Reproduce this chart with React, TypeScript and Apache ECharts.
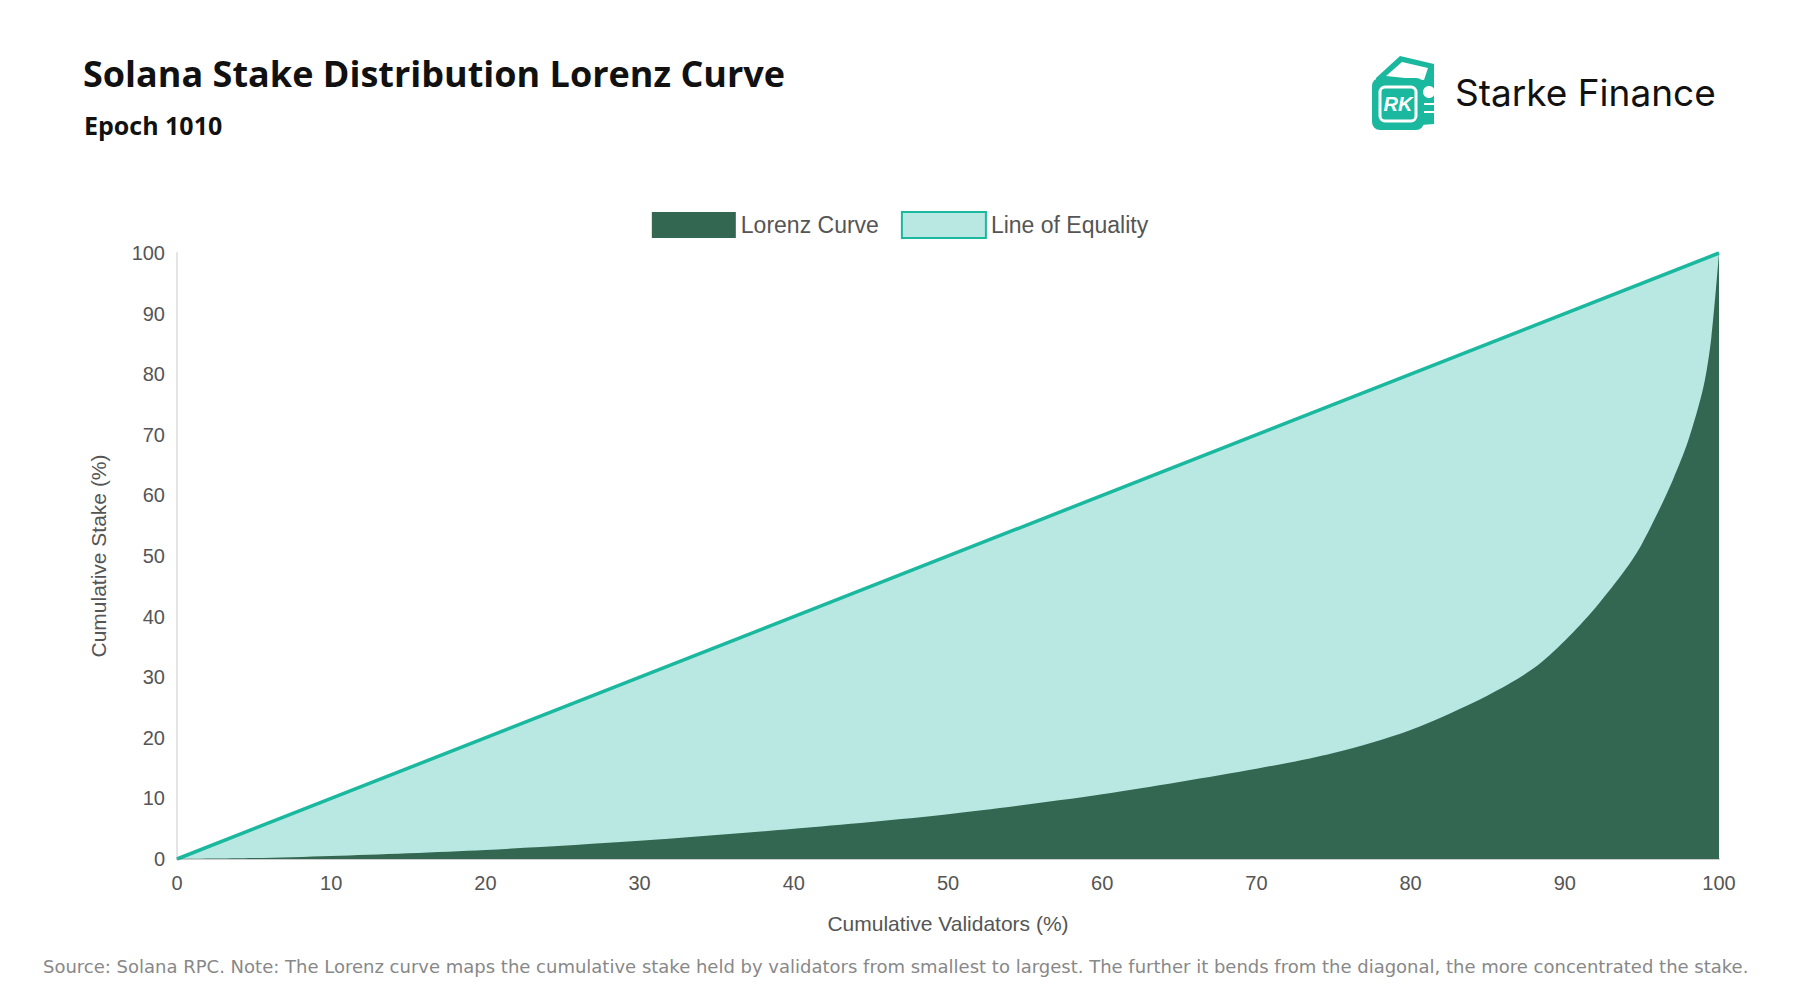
import React, { useEffect, useRef } from "react";
import * as echarts from "echarts";

const lorenzX = [0, 5, 10, 20, 30, 40, 50, 60, 70, 75, 80, 85, 88, 90, 92, 94, 95, 96, 97, 98, 99, 99.5, 100];
const lorenzY = [0, 0.15, 0.5, 1.5, 3, 5, 7.4, 10.7, 14.9, 17.5, 21.3, 27, 31.5, 36, 41.5, 48, 52, 57, 62.5, 69, 78, 86, 100];
const equalityX = [0, 100];
const equalityY = [0, 100];

const teal = "#1ab89e";
const dark = "#336751";
const light = "#b9e8e2";

const App: React.FC = () => {
  const chartRef = useRef<HTMLDivElement>(null);

  useEffect(() => {
    if (!chartRef.current) return;
    const chart = echarts.init(chartRef.current, undefined, { renderer: "svg" });
    const axisLabel = { color: "#555", fontSize: 20, fontFamily: "Liberation Sans" };
    const option = {
      animation: false,
      textStyle: { fontFamily: "Liberation Sans" },
      title: [
        {
          text: "Solana Stake Distribution Lorenz Curve",
          left: 78,
          top: 50,
          textStyle: { fontFamily: "Open Sans", fontWeight: "bold", fontSize: 36, color: "#111" },
        },
        {
          text: "Epoch 1010",
          left: 79,
          top: 107,
          textStyle: { fontFamily: "Open Sans", fontWeight: "bold", fontSize: 25, color: "#111" },
        },
      ],
      legend: {
        top: 206,
        left: "center",
        itemWidth: 84,
        itemHeight: 26,
        itemGap: 22,
        icon: "rect",
        textStyle: { color: "#555", fontSize: 23, fontFamily: "Liberation Sans" },
        data: ["Lorenz Curve", "Line of Equality"],
      },
      grid: { left: 177, right: 81, top: 253, bottom: 141 },
      xAxis: {
        type: "value",
        min: 0,
        max: 100,
        interval: 10,
        name: "Cumulative Validators (%)",
        nameLocation: "middle",
        nameGap: 54,
        nameTextStyle: { color: "#555", fontSize: 21 },
        axisLine: { show: true, lineStyle: { color: "#ccc", width: 2 } },
        axisTick: { show: false },
        splitLine: { show: false },
        axisLabel: { ...axisLabel, margin: 14 },
      },
      yAxis: {
        type: "value",
        min: 0,
        max: 100,
        interval: 10,
        name: "Cumulative Stake (%)",
        nameLocation: "middle",
        nameGap: 68,
        nameTextStyle: { color: "#555", fontSize: 21 },
        axisLine: { show: true, lineStyle: { color: "#e4e4e4", width: 2 } },
        axisTick: { show: false },
        splitLine: { show: false },
        axisLabel: { ...axisLabel, margin: 12 },
      },
      series: [
        {
          name: "Line of Equality",
          type: "line",
          data: equalityX.map((x, i) => [x, equalityY[i]]),
          symbol: "none",
          lineStyle: { color: teal, width: 3.5 },
          itemStyle: { color: light, borderColor: teal, borderWidth: 3 },
          areaStyle: { color: light, opacity: 1 },
          z: 2,
        },
        {
          name: "Lorenz Curve",
          type: "line",
          data: lorenzX.map((x, i) => [x, lorenzY[i]]),
          symbol: "none",
          smooth: 0.3,
          lineStyle: { width: 0, color: dark },
          itemStyle: { color: dark },
          areaStyle: { color: dark, opacity: 1 },
          z: 3,
        },
      ],
      graphic: [
        {
          type: "group",
          left: 1372,
          top: 56,
          children: [
            { type: "polygon", shape: { points: [[4, 24], [28, 2], [62, 10], [62, 70], [8, 74]] }, style: { fill: teal } },
            { type: "polygon", shape: { points: [[14, 22], [30, 8], [56, 14], [52, 26]] }, style: { fill: "#fff" } },
            { type: "rect", shape: { x: 0, y: 24, width: 52, height: 52, r: 8 }, style: { fill: teal } },
            { type: "rect", shape: { x: 8, y: 33, width: 36, height: 34, r: 5 }, style: { fill: "none", stroke: "#fff", lineWidth: 3 } },
            { type: "text", style: { x: 26, y: 50, text: "RK", fill: "#fff", fontSize: 20, fontWeight: "bold", fontStyle: "italic", align: "center", verticalAlign: "middle" } },
            { type: "ellipse", shape: { cx: 57, cy: 38, rx: 6, ry: 6 }, style: { fill: "#fff" } },
            { type: "line", shape: { x1: 52, y1: 50, x2: 62, y2: 50 }, style: { stroke: "#fff", lineWidth: 2 } },
            { type: "line", shape: { x1: 52, y1: 58, x2: 62, y2: 58 }, style: { stroke: "#fff", lineWidth: 2 } },
          ],
        },
        {
          type: "text",
          left: 1455,
          top: 74,
          style: { text: "Starke Finance", fill: "#111", fontSize: 37, fontFamily: "Inter" },
        },
        {
          type: "text",
          left: 43,
          top: 957,
          style: {
            text: "Source: Solana RPC. Note: The Lorenz curve maps the cumulative stake held by validators from smallest to largest. The further it bends from the diagonal, the more concentrated the stake.",
            fill: "#888",
            fontSize: 18,
            fontFamily: "DejaVu Sans",
          },
        },
      ],
    };
    chart.setOption(option);
    return () => chart.dispose();
  }, []);

  return <div ref={chartRef} style={{ width: 1800, height: 1000, margin: -8, background: "#fff" }} />;
};

export default App;
